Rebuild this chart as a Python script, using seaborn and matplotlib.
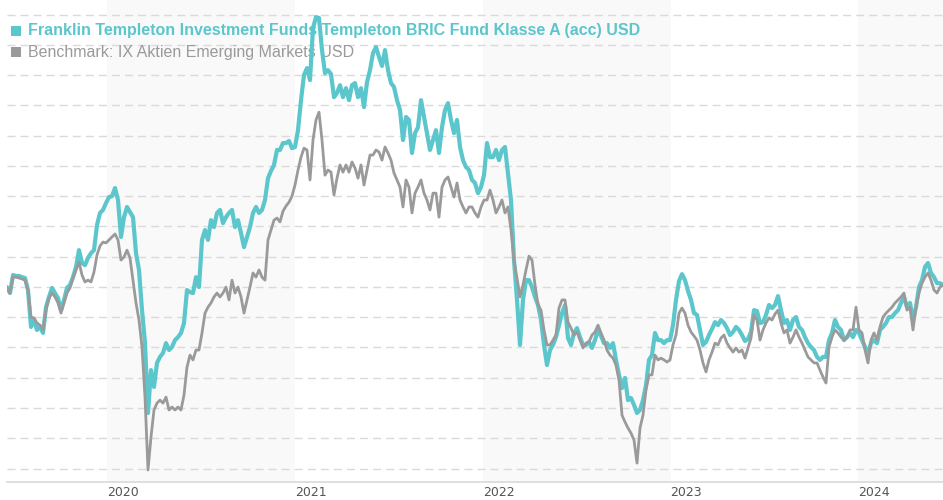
import numpy as np
import pandas as pd
import matplotlib
matplotlib.use("Agg")
import matplotlib.pyplot as plt
import matplotlib.dates as mdates
import seaborn as sns

# Reihen (indexiert, Start ~100), Abtastung ca. alle 6 Tage
fund_name = "Franklin Templeton Investment Funds Templeton BRIC Fund Klasse A (acc) USD"
bench_name = "Benchmark: IX Aktien Emerging Markets USD"
start_date = "2019-06-20"
end_date = "2024-06-14"

fund_values = [
    100.0, 98.0, 104.0, 103.7, 103.7, 103.3, 103.0, 99.0, 86.7, 89.0, 85.7, 86.7, 84.7, 93.3, 96.7, 99.7,
    98.0, 96.3, 92.3, 95.7, 99.7, 100.7, 103.3, 106.7, 112.3, 108.0, 107.3, 109.7, 111.3, 112.3, 120.7, 124.7,
    125.7, 128.0, 130.0, 130.3, 133.0, 129.0, 116.7, 123.3, 126.7, 125.0, 123.3, 111.3, 105.7, 92.3, 81.3, 58.0,
    72.3, 66.7, 74.7, 76.7, 78.0, 81.3, 79.0, 80.0, 82.3, 83.3, 84.7, 88.0, 99.0, 98.3, 98.0, 103.3, 100.0, 115.7,
    119.0, 115.7, 122.3, 120.0, 124.7, 125.7, 121.3, 123.3, 124.7, 125.7, 120.0, 122.3, 118.0, 113.3, 116.7, 120.0,
    124.7, 126.7, 124.7, 125.7, 129.0, 136.3, 138.7, 140.7, 145.7, 145.7, 148.0, 148.0, 148.7, 146.3, 146.7, 152.3,
    162.3, 170.7, 173.0, 169.0, 186.3, 190.0, 189.7, 179.0, 171.3, 172.3, 171.0, 163.3, 164.7, 167.3, 163.3, 166.3,
    162.3, 167.3, 168.0, 163.3, 166.3, 160.0, 168.3, 172.3, 178.0, 180.0, 176.7, 173.7, 179.0, 172.3, 168.0, 166.7,
    162.3, 159.0, 149.0, 156.7, 155.7, 144.7, 151.3, 153.3, 162.3, 156.7, 151.3, 145.7, 149.0, 152.3, 144.7, 153.3,
    159.0, 161.3, 155.7, 151.3, 155.7, 146.7, 142.3, 140.0, 139.0, 135.7, 134.7, 131.3, 133.3, 137.3, 148.0, 143.3,
    143.3, 145.7, 142.3, 145.7, 146.7, 138.0, 129.0, 109.0, 95.7, 80.7, 95.7, 102.3, 102.3, 100.0, 96.7, 94.0,
    89.0, 80.7, 74.0, 79.0, 80.7, 83.3, 87.3, 91.3, 94.0, 83.0, 80.7, 84.7, 86.3, 83.3, 80.7, 80.7,
    81.7, 79.7, 82.3, 85.7, 83.7, 81.3, 81.3, 79.7, 81.3, 75.7, 70.7, 66.3, 69.7, 62.3, 63.0, 60.7,
    58.0, 59.0, 62.3, 67.3, 75.7, 77.3, 84.7, 82.3, 82.3, 81.3, 82.3, 82.3, 87.3, 95.7, 102.0, 104.3,
    102.3, 98.7, 95.7, 91.3, 90.7, 85.7, 80.7, 81.7, 84.0, 86.0, 88.3, 87.3, 89.0, 88.0, 86.3, 84.0,
    85.0, 86.7, 85.7, 84.0, 82.0, 82.7, 85.0, 92.3, 92.0, 88.0, 88.3, 90.7, 94.0, 93.0, 94.0, 97.0,
    92.3, 88.0, 89.0, 85.7, 89.0, 90.0, 86.7, 85.7, 83.3, 81.3, 80.0, 79.0, 76.7, 75.7, 76.7, 76.7,
    82.3, 84.7, 89.0, 86.7, 85.7, 82.3, 83.3, 84.7, 83.3, 85.7, 84.7, 82.3, 80.0, 78.0, 81.3, 82.3,
    81.3, 85.7, 86.7, 88.0, 90.0, 90.0, 91.3, 92.3, 94.7, 96.7, 93.3, 94.7, 89.0, 93.3, 100.0, 102.3,
    106.7, 108.0, 104.7, 103.3, 101.3, 101.3, 100.7,
]

bench_values = [
    99.7, 98.0, 103.3, 103.3, 103.0, 102.7, 102.3, 99.0, 90.0, 89.7, 88.0, 87.3, 85.7, 92.3, 96.3, 98.0,
    96.7, 94.7, 91.3, 94.7, 98.0, 99.7, 103.0, 105.7, 108.3, 104.0, 101.7, 102.3, 101.7, 105.0, 110.7, 113.7,
    115.0, 114.7, 115.7, 116.7, 117.7, 115.7, 109.0, 110.0, 112.3, 109.7, 102.3, 94.7, 89.0, 80.0, 63.3, 39.0,
    50.0, 59.0, 61.3, 62.3, 61.3, 63.3, 59.0, 60.0, 59.0, 60.0, 59.0, 64.0, 73.3, 77.3, 75.7, 79.0, 79.0, 84.7,
    91.3, 93.3, 94.7, 96.7, 98.0, 96.7, 98.0, 100.0, 95.7, 102.3, 98.0, 100.0, 96.7, 91.3, 95.7, 100.0,
    104.7, 103.3, 105.7, 103.3, 102.3, 115.7, 119.0, 122.3, 123.0, 121.7, 125.3, 127.0, 128.3, 130.3, 134.0, 139.0,
    143.3, 146.3, 145.7, 135.7, 149.0, 155.7, 158.3, 149.0, 137.3, 139.0, 138.3, 130.7, 136.3, 140.7, 138.3, 140.7,
    138.3, 141.7, 139.7, 136.3, 140.7, 134.0, 139.0, 144.0, 144.0, 145.7, 145.0, 142.3, 146.7, 144.7, 142.3, 138.0,
    135.7, 133.3, 126.7, 135.7, 133.3, 124.7, 131.3, 133.3, 135.7, 131.3, 129.0, 125.7, 131.3, 131.3, 123.3, 133.3,
    135.7, 136.7, 133.3, 130.0, 134.7, 129.0, 126.7, 124.7, 126.7, 126.7, 124.7, 123.3, 126.7, 129.0, 129.0, 132.3,
    129.0, 124.7, 126.7, 129.0, 124.7, 126.7, 119.0, 109.0, 103.0, 96.7, 100.7, 105.7, 110.3, 109.0, 100.7, 94.0,
    92.3, 85.7, 80.7, 80.7, 82.3, 84.0, 93.0, 95.7, 95.7, 88.3, 86.3, 84.0, 85.0, 82.3, 79.7, 81.3,
    81.7, 84.0, 85.0, 87.3, 84.7, 82.3, 79.0, 77.3, 76.3, 74.0, 69.0, 57.3, 55.0, 53.0, 51.3, 49.0,
    41.3, 53.0, 57.3, 65.7, 70.7, 70.7, 77.3, 75.7, 76.3, 75.7, 75.0, 75.7, 80.7, 84.0, 91.3, 93.0,
    91.3, 87.3, 85.0, 83.7, 82.3, 79.0, 74.7, 71.7, 75.7, 78.3, 81.3, 80.7, 83.0, 84.0, 81.3, 79.7,
    78.3, 79.7, 78.3, 79.0, 76.3, 79.7, 83.0, 90.7, 89.0, 82.3, 85.7, 88.0, 89.7, 89.0, 91.0, 92.3,
    88.0, 84.7, 85.7, 81.3, 83.3, 85.7, 83.3, 81.3, 79.0, 76.7, 75.7, 74.7, 74.7, 72.3, 70.0, 68.0,
    80.0, 83.3, 85.7, 84.7, 83.3, 82.3, 83.3, 85.7, 85.7, 93.3, 85.7, 84.7, 79.0, 74.7, 82.3, 84.7,
    82.3, 86.7, 90.0, 91.3, 92.3, 93.3, 94.7, 95.7, 96.7, 98.0, 92.3, 93.3, 85.7, 93.3, 98.0, 101.3,
    103.3, 104.7, 102.3, 99.0, 98.0, 100.0, 100.7,
]

years_shaded = [2020, 2022, 2024]
year_ticks = [2020, 2021, 2022, 2023, 2024]

TEAL = "#5bc6cc"
GRAY = "#9a9a9a"

n = min(len(fund_values), len(bench_values))
dates = pd.date_range(start_date, end_date, periods=n)
df = pd.DataFrame({
    "Datum": np.concatenate([dates, dates]),
    "Wert": fund_values[:n] + bench_values[:n],
    "Reihe": [fund_name] * n + [bench_name] * n,
})

sns.set_style("white")
plt.rcParams["font.family"] = ["DejaVu Sans"]

fig = plt.figure(figsize=(9.43, 5.0), dpi=100)
ax = fig.add_axes([7 / 943, 18 / 500, 936 / 943, 482 / 500])

# Jahresbänder
for y in years_shaded:
    ax.axvspan(pd.Timestamp(f"{y}-01-01"), pd.Timestamp(f"{y + 1}-01-01"),
               color="#f9f9f9", zorder=0, lw=0)

sns.lineplot(data=df, x="Datum", y="Wert", hue="Reihe",
             palette={fund_name: TEAL, bench_name: GRAY},
             hue_order=[fund_name, bench_name], legend=False, ax=ax, zorder=3)
lines = ax.get_lines()
lines[0].set_linewidth(3.0)
lines[1].set_linewidth(2.0)
lines[1].set_zorder(4)

ax.set_xlim(pd.Timestamp(start_date), pd.Timestamp(end_date))
ax.set_ylim(35.0, 195.7)

# Gitterlinien
ax.set_yticks([39.5 + 10.09 * i for i in range(16)])
ax.yaxis.grid(True, linestyle=(0, (5.8, 3.6)), color="#dadada", lw=1.0)
ax.xaxis.grid(False)
ax.set_axisbelow(True)
ax.tick_params(axis="y", left=False, labelleft=False)

ax.set_xticks([pd.Timestamp(f"{y}-01-01") for y in year_ticks])
ax.xaxis.set_major_formatter(mdates.DateFormatter("%Y"))
ax.tick_params(axis="x", length=0, pad=3, labelsize=9, labelcolor="#555555")
for lab in ax.get_xticklabels():
    lab.set_horizontalalignment("left")

for s in ["top", "left", "right"]:
    ax.spines[s].set_visible(False)
ax.spines["bottom"].set_color("#d9d9d9")
ax.spines["bottom"].set_linewidth(1.2)
ax.set_xlabel("")
ax.set_ylabel("")

# Legende oben links
ax.scatter([0.0091], [0.9357], marker="s", s=55, color=TEAL, transform=ax.transAxes,
           clip_on=False, zorder=2, linewidths=0)
ax.scatter([0.0091], [0.892], marker="s", s=55, color=GRAY, transform=ax.transAxes,
           clip_on=False, zorder=2, linewidths=0)
ax.text(0.0224, 0.9357, fund_name, transform=ax.transAxes, va="center", ha="left",
        fontsize=11.5, fontweight="bold", color=TEAL, family="Liberation Sans", zorder=1)
ax.text(0.0224, 0.892, bench_name, transform=ax.transAxes, va="center", ha="left",
        fontsize=11.5, color=GRAY, family="Liberation Sans", zorder=1)

fig.savefig("out.png", dpi=100)
